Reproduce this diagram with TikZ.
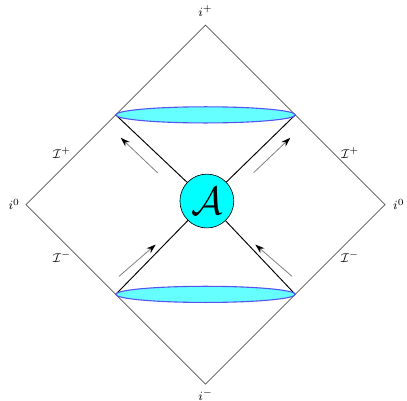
\documentclass[tikz,border=0pt]{standalone}
\usepackage{amsmath, amssymb}
\usetikzlibrary{positioning, arrows.meta, calc}
\definecolor{bndgray}{HTML}{555555}
\definecolor{capcyan}{HTML}{66FFFF}
\definecolor{capblue}{HTML}{5555EE}
\definecolor{bodycyan}{HTML}{00FFFF}

\tikzset{
  bndline/.style={bndgray, line width=0.5pt},
  capsurf/.style={fill=capcyan, draw=capblue, line width=0.7pt},
  coneline/.style={black, line width=0.6pt},
  flowarrow/.style={gray, line width=0.5pt, -{Stealth[black, length=6pt, width=4pt]}},
  corner/.style={inner sep=1pt},
}

\begin{document}
\begin{tikzpicture}[font=\footnotesize]
\useasboundingbox (-4.58,-4.36) rectangle (4.49,4.56);
% corners of the diamond
\coordinate (top) at (0,4);
\coordinate (bot) at (0,-4);
\coordinate (lft) at (-4,0);
\coordinate (rgt) at (4,0);
\draw[bndline] (top) -- (rgt) -- (bot) -- (lft) -- cycle;
\node[corner, above=0.16 of top] (iplus) {$i^+$};
\node[corner, below=0.08 of bot] (iminus) {$i^-$};
\node[corner, left=0.1 of lft] (izerol) {$i^0$};
\node[corner, right=0.14 of rgt] (izeror) {$i^0$};
% null infinity
\node (scrul) at (-3.2,1.15) {$\mathcal{I}^+$};
\node (scrur) at (3.22,1.15) {$\mathcal{I}^+$};
\node (scrll) at (-3.2,-1.17) {$\mathcal{I}^-$};
\node (scrlr) at (3.22,-1.17) {$\mathcal{I}^-$};
% cone tips on the boundary
\coordinate (ul) at (-2,2);
\coordinate (ur) at (2,2);
\coordinate (ll) at (-2,-2);
\coordinate (lr) at (2,-2);
\node[circle, draw, fill=bodycyan, minimum size=1.2cm, inner sep=0pt, font=\Huge] (A) at (0.03,0.08) {$\mathcal{A}$};
\foreach \c in {ul,ur,ll,lr} {
  \draw[coneline] (\c) -- (A);
}
\draw[capsurf] (0,2) ellipse (2 and 0.18);
\draw[capsurf] (0,-2) ellipse (2 and 0.18);
% outgoing arrows
\foreach \s in {-1,1} {
  \coordinate (ut\s) at (1.07*\s,0.71);
  \coordinate (uh\s) at (1.89*\s,1.49);
  \coordinate (lt\s) at (1.93*\s,-1.6);
  \coordinate (lh\s) at (1.11*\s,-0.89);
  \draw[flowarrow] (ut\s) -- (uh\s);
  \draw[flowarrow] (lt\s) -- (lh\s);
}
\end{tikzpicture}
\end{document}
